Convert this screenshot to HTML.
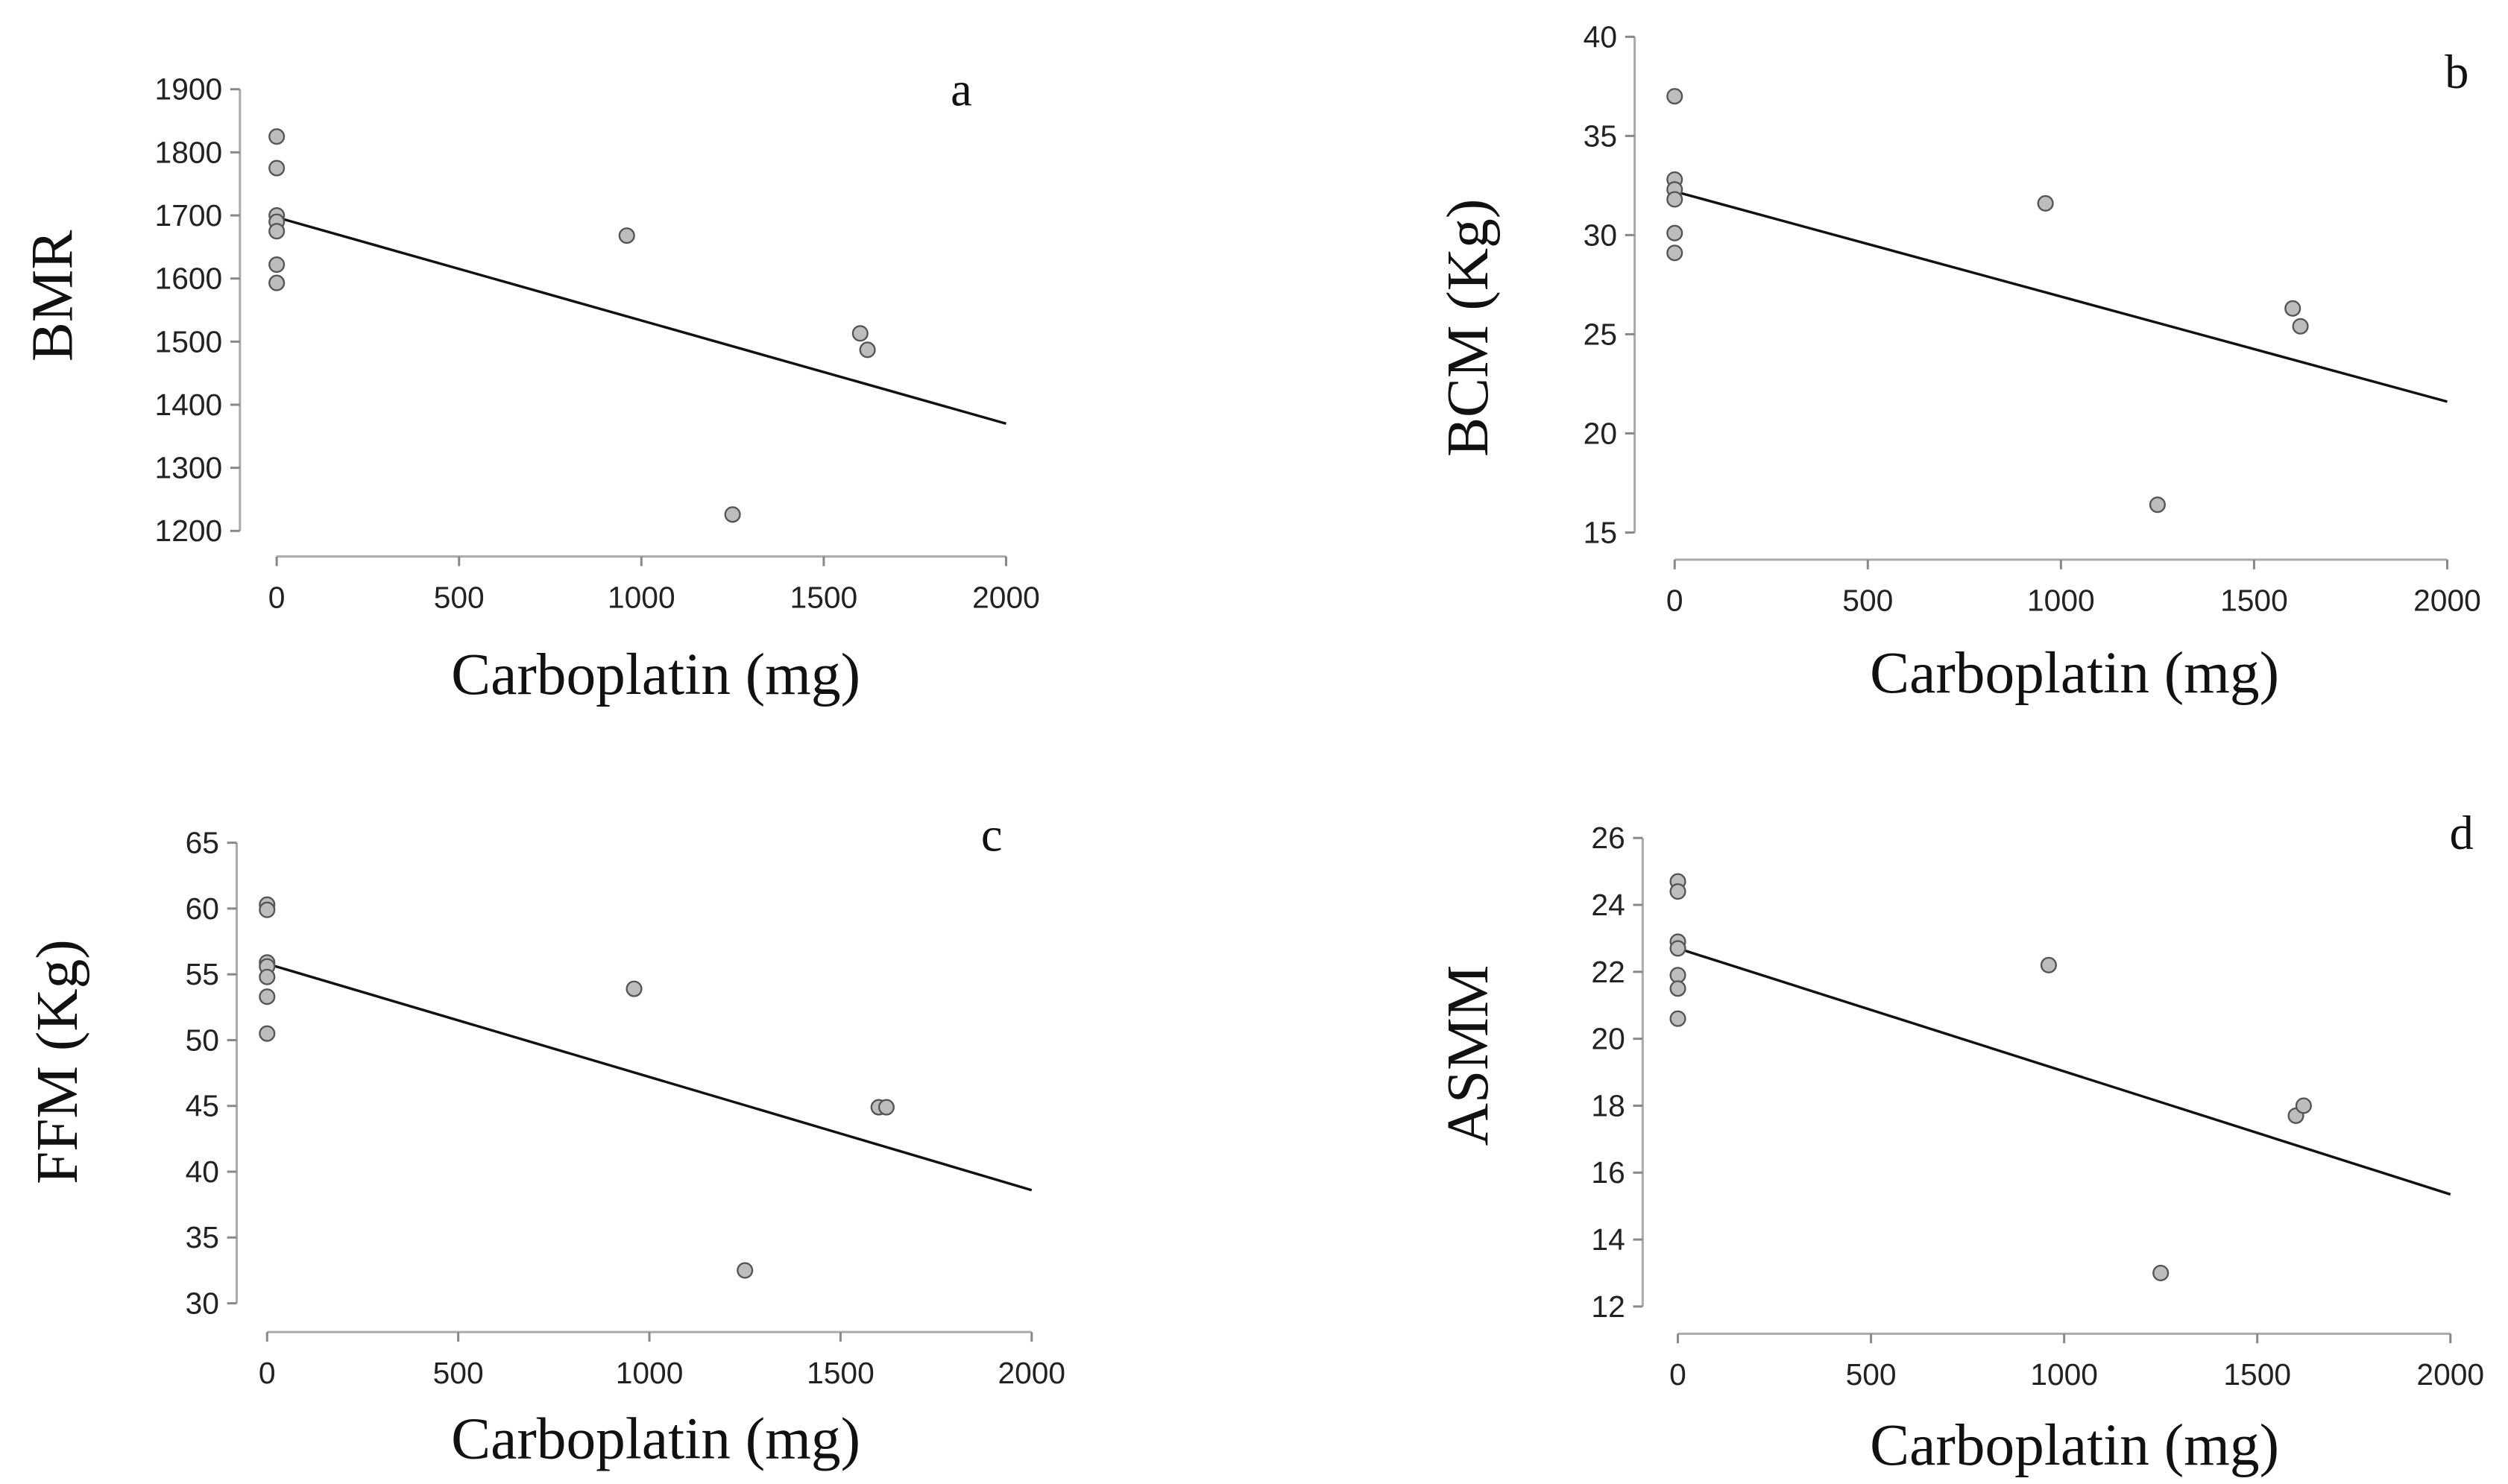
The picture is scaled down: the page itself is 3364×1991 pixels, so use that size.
<!DOCTYPE html>
<html><head><meta charset="utf-8"><style>
html,body{margin:0;padding:0;background:#fff;}
svg{display:block;}
.tk{font-family:"Liberation Sans",sans-serif;font-size:19px;fill:#222;}
.lab{font-family:"Liberation Serif",serif;font-size:37px;fill:#111;}
.pl{font-family:"Liberation Serif",serif;font-size:30px;fill:#111;}
</style></head><body>
<svg id="fig" width="3364" height="1991" viewBox="0 0 1568 928" preserveAspectRatio="none" xmlns="http://www.w3.org/2000/svg"></svg>
<script>
const xTicks=[0,500,1000,1500,2000];
const carboX=[0,0,0,0,0,0,0,960,1600,1620,1250];
const bmrY=[1825,1775,1700,1690,1675,1622,1593,1668,1513,1487,1226];
const bmrFit=[1697,1370];
const bmrTicks=[1200,1300,1400,1500,1600,1700,1800,1900];
const carboXb=[0,0,0,0,0,0,960,1600,1620,1250];
const bcmY=[37,32.8,32.3,31.8,30.1,29.1,31.6,26.3,25.4,16.4];
const bcmFit=[32.2,21.6];
const bcmTicks=[15,20,25,30,35,40];
const ffmY=[60.3,59.9,55.9,55.6,54.8,53.3,50.5,53.9,44.9,44.9,32.5];
const carboXc=[0,0,0,0,0,0,0,960,1600,1620,1250];
const ffmFit=[55.8,38.6];
const ffmTicks=[30,35,40,45,50,55,60,65];
const asmmY=[24.7,24.4,22.9,22.7,21.9,21.5,20.6,22.2,17.7,18.0,13.0];
const asmmFit=[22.7,15.35];
const asmmTicks=[12,14,16,18,20,22,24,26];

const NS="http://www.w3.org/2000/svg";
const svg=document.getElementById('fig');
function mk(tag,attrs,parent){const e=document.createElementNS(NS,tag);for(const k in attrs)e.setAttribute(k,attrs[k]);(parent||svg).appendChild(e);return e;}

function panel(cfg){
  const g=mk('g',{});
  
  
  const xs=v=>cfg.x0+(v-0)/2000*(cfg.x1-cfg.x0);
  const ys=v=>cfg.yb+(v-cfg.vb)/(cfg.vt-cfg.vb)*(cfg.yt-cfg.yb);
  const ya=mk('g',{},g);
  
  
  mk('line',{x1:cfg.ax,x2:cfg.ax,y1:ys(cfg.yTicks[0]),y2:ys(cfg.yTicks[cfg.yTicks.length-1]),stroke:'#aaa','stroke-width':1.4},ya);
  cfg.yTicks.forEach(t=>{
    mk('line',{x1:cfg.ax-6,x2:cfg.ax,y1:ys(t),y2:ys(t),stroke:'#888','stroke-width':1.4},ya);
    const tx=mk('text',{x:cfg.ax-11,y:ys(t)+6.5,'text-anchor':'end',class:'tk'},ya);
    tx.textContent=t;
    
    
  });
  const xa=mk('g',{},g);
  
  
  mk('line',{x1:xs(0),x2:xs(2000),y1:cfg.ay,y2:cfg.ay,stroke:'#aaa','stroke-width':1.4},xa);
  xTicks.forEach(t=>{
    mk('line',{x1:xs(t),x2:xs(t),y1:cfg.ay,y2:cfg.ay+6,stroke:'#888','stroke-width':1.4},xa);
    const tx=mk('text',{x:xs(t),y:cfg.ay+32,'text-anchor':'middle',class:'tk'},xa);
    tx.textContent=t;
    
    
  });
  const fl=mk('line',{x1:xs(0),y1:ys(cfg.fit[0]),x2:xs(2000),y2:ys(cfg.fit[1]),stroke:'#111','stroke-width':1.6},g);
  
  
  cfg.xv.forEach((xv,i)=>{
    const c=mk('circle',{cx:xs(xv),cy:ys(cfg.yv[i]),r:4.6,fill:'#bdbdbd',stroke:'#555','stroke-width':1.1},g);
    
    
  });
  const xl=mk('text',{x:cfg.xlx,y:cfg.xly,'text-anchor':'middle',class:'lab'},g);
  xl.textContent='Carboplatin (mg)';
  
  
  const yl=mk('text',{x:0,y:0,'text-anchor':'middle',class:'lab',transform:`translate(${cfg.ylx},${cfg.yly}) rotate(-90)`},g);
  yl.textContent=cfg.ytitle;
  
  
  const pl=mk('text',{x:cfg.lx,y:cfg.ly,'text-anchor':'middle',class:'pl'},g);
  pl.textContent=cfg.letter;
  
  
}
panel({letter:'a',x0:173,x1:629,ax:150,ay:348,vb:1200,vt:1900,yb:332,yt:55.8,yTicks:bmrTicks,xv:carboX,yv:bmrY,fit:bmrFit,ytitle:'BMR',xlx:410,xly:434,ylx:45,yly:185,lx:601,ly:66});
panel({letter:'b',x0:1047,x1:1530,ax:1022,ay:350,vb:15,vt:40,yb:333,yt:23,yTicks:bcmTicks,xv:carboXb,yv:bcmY,fit:bcmFit,ytitle:'BCM (Kg)',xlx:1297,xly:433,ylx:930,yly:205,lx:1536,ly:55});
panel({letter:'c',x0:167,x1:645,ax:148,ay:833,vb:30,vt:65,yb:815,yt:527,yTicks:ffmTicks,xv:carboXc,yv:ffmY,fit:ffmFit,ytitle:'FFM (Kg)',xlx:410,xly:912,ylx:48,yly:664,lx:620,ly:532});
panel({letter:'d',x0:1049,x1:1532,ax:1027,ay:834,vb:12,vt:26,yb:817,yt:524,yTicks:asmmTicks,xv:carboXc,yv:asmmY,fit:asmmFit,ytitle:'ASMM',xlx:1297,xly:916,ylx:930,yly:660,lx:1539,ly:531});
</script>
</body></html>
